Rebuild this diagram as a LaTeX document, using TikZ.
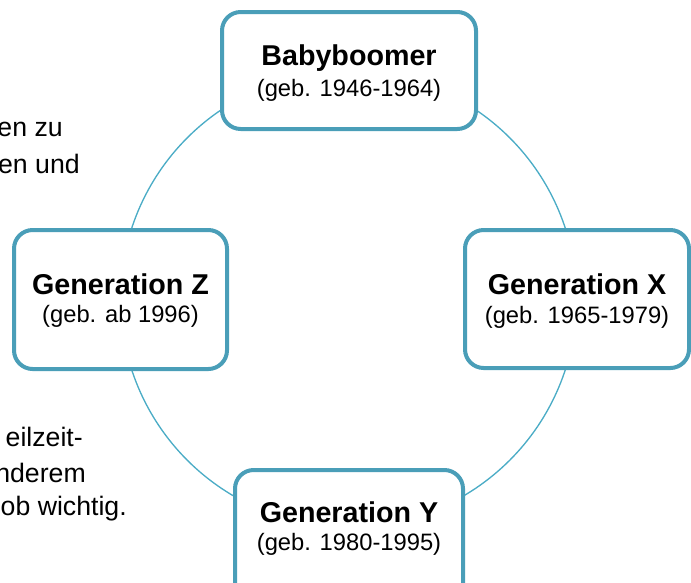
\documentclass[tikz,border=0pt]{standalone}
\usepackage{fontspec}
\setmainfont{Liberation Sans}
\definecolor{boxblue}{HTML}{4A9EB8}
\definecolor{ringblue}{HTML}{4BACC6}
\begin{document}
\begin{tikzpicture}[x=0.75pt,y=-0.75pt,
  genbox/.style={draw=boxblue, line width=3pt, rounded corners=14pt, fill=white, inner sep=0pt},
  gentitle/.style={font=\fontsize{21.5}{24}\selectfont\bfseries, anchor=base, inner sep=0pt},
  gensub/.style={font=\fontsize{17.8}{20}\selectfont, anchor=base, inner sep=0pt},
  sidetext/.style={font=\fontsize{20}{22}\selectfont, anchor=base east, inner sep=0pt}]
\useasboundingbox (0,0) rectangle (691,582);
\begin{scope}
\clip (0,0) rectangle (691,582);
% fragments of background text
\node[sidetext] (s1) at (63,136) {en zu};
\node[sidetext] (s2) at (80,173) {en und};
\node[sidetext] (s3) at (83,446) {eilzeit-};
\node[sidetext] (s4) at (86,482) {nderem};
\node[sidetext] (s5) at (127,515) {ob wichtig.};
% ring
\coordinate (ring) at (348.5,299);
\draw[ringblue, line width=1pt] (ring) circle [radius=228];
% boxes
\node[genbox, minimum width=190.5pt, minimum height=87.75pt] (bb) at (349,70.5) {};
\node[genbox, minimum width=159.75pt, minimum height=104.25pt] (gz) at (120.5,299.5) {};
\node[genbox, minimum width=168pt, minimum height=103.5pt] (gx) at (577,299) {};
\node[genbox, minimum width=171pt, minimum height=105pt] (gy) at (349,540) {};
% texts
\node[gentitle] (bbt) at (349,65) {Babyboomer};
\node[gensub] (bbs) at (349,96.5) {(geb. 1946-1964)};
\node[gentitle] (gzt) at (120.5,294) {Generation Z};
\node[gensub] (gzs) at (120.5,322) {(geb. ab 1996)};
\node[gentitle] (gxt) at (577,294) {Generation X};
\node[gensub] (gxs) at (577,323) {(geb. 1965-1979)};
\node[gentitle] (gyt) at (349,522.5) {Generation Y};
\node[gensub] (gys) at (349,550) {(geb. 1980-1995)};
\end{scope}
\end{tikzpicture}
\end{document}
